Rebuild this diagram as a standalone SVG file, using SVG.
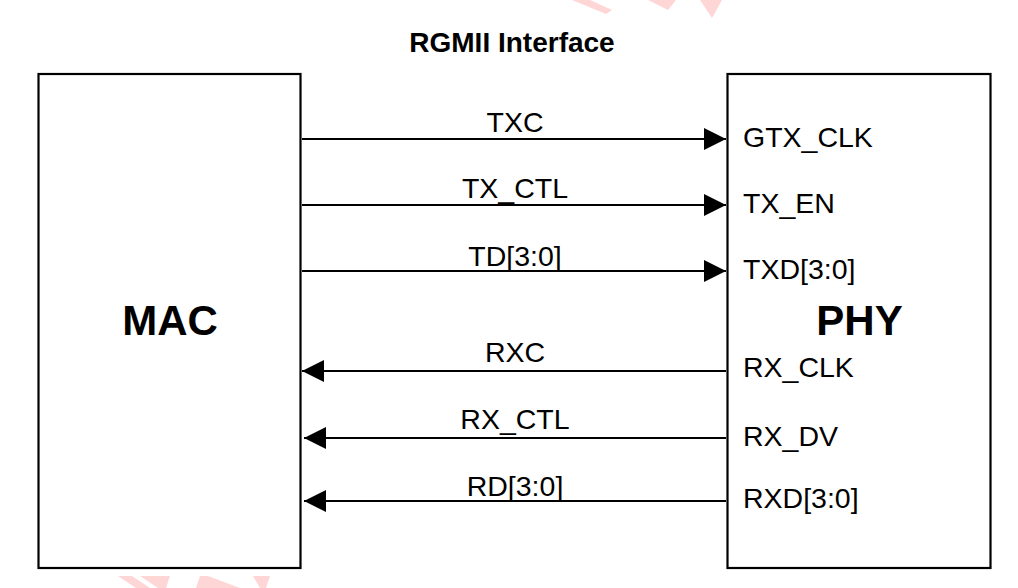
<svg xmlns="http://www.w3.org/2000/svg" width="1018" height="588" viewBox="0 0 1018 588">
<style>
.box{fill:#fff;stroke:#000;stroke-width:2.2}
.ln{stroke:#000;stroke-width:2.2;fill:none}
.lbl{font-family:"Liberation Sans",Arial,sans-serif;font-size:28.5px;fill:#000}
.big{font-family:"Liberation Sans",Arial,sans-serif;font-size:42px;font-weight:bold;fill:#000}
.ttl{font-family:"Liberation Sans",Arial,sans-serif;font-size:28px;font-weight:bold;fill:#000}
.wm{fill:#ffd6d6}
</style>
<defs>
<marker id="ah" viewBox="0 0 22 22" refX="22" refY="11" markerWidth="22" markerHeight="22" markerUnits="userSpaceOnUse" orient="auto">
<path d="M0,0 L22,11 L0,22 Z" fill="#000"/>
</marker>
</defs>
<rect width="1018" height="588" fill="#fff"/>
<g id="watermark">
<polygon class="wm" points="572,0 590,0 612,10 606,14"/>
<polygon class="wm" points="648,0 676,0 668,10"/>
<polygon class="wm" points="700,0 722,0 712,18"/>
<polygon class="wm" points="118,576 132,576 150,588 136,588"/>
<polygon class="wm" points="140,576 170,576 166,588 158,588"/>
<polygon class="wm" points="200,576 208,576 240,588 196,588"/>
<polygon class="wm" points="253,576 270,576 266,588 260,588"/>
</g>
<text class="ttl" x="512" y="52" text-anchor="middle">RGMII Interface</text>
<g id="mac">
<rect class="box" x="38.5" y="74" width="262" height="494"/>
<text class="big" x="170" y="335" text-anchor="middle">MAC</text>
</g>
<g id="phy">
<rect class="box" x="727.5" y="74" width="263" height="494"/>
<text class="big" x="859.5" y="335" text-anchor="middle">PHY</text>
<text class="lbl" x="743" y="147">GTX_CLK</text>
<text class="lbl" x="743" y="213">TX_EN</text>
<text class="lbl" x="743" y="279">TXD[3:0]</text>
<text class="lbl" x="743" y="377">RX_CLK</text>
<text class="lbl" x="743" y="446">RX_DV</text>
<text class="lbl" x="743" y="508">RXD[3:0]</text>
</g>
<g id="connectors">
<line class="ln" x1="302" y1="139" x2="726" y2="139" marker-end="url(#ah)"/>
<line class="ln" x1="302" y1="205" x2="726" y2="205" marker-end="url(#ah)"/>
<line class="ln" x1="302" y1="271" x2="726" y2="271" marker-end="url(#ah)"/>
<line class="ln" x1="726" y1="371" x2="302" y2="371" marker-end="url(#ah)"/>
<line class="ln" x1="726" y1="438" x2="304" y2="438" marker-end="url(#ah)"/>
<line class="ln" x1="726" y1="501" x2="304" y2="501" marker-end="url(#ah)"/>
<text class="lbl" x="515" y="132" text-anchor="middle">TXC</text>
<text class="lbl" x="515" y="198" text-anchor="middle">TX_CTL</text>
<text class="lbl" x="515" y="266" text-anchor="middle">TD[3:0]</text>
<text class="lbl" x="515" y="362" text-anchor="middle">RXC</text>
<text class="lbl" x="515" y="429" text-anchor="middle">RX_CTL</text>
<text class="lbl" x="515" y="496" text-anchor="middle">RD[3:0]</text>
</g>
</svg>
